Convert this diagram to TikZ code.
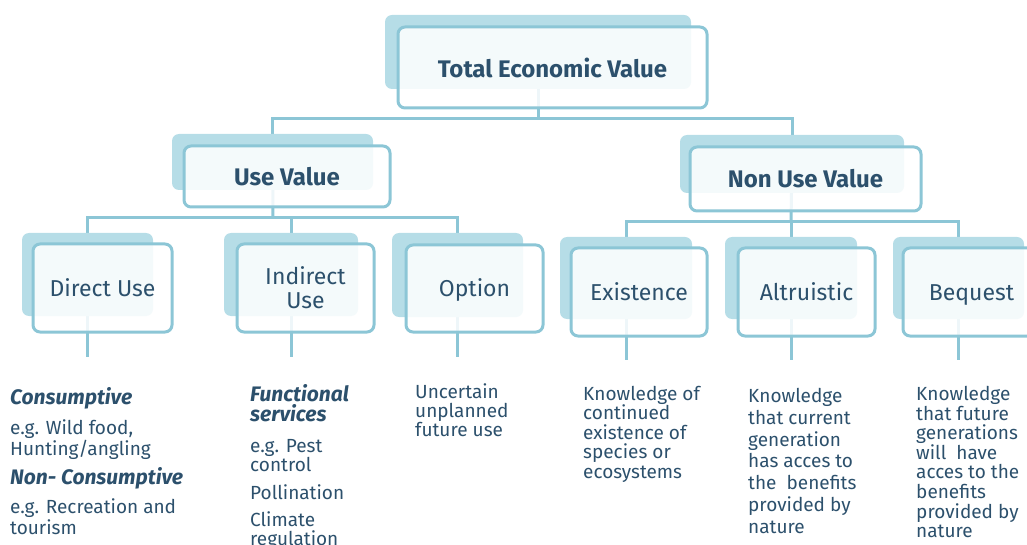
\documentclass[tikz,border=0pt]{standalone}
\usepackage{fontspec}
\setmainfont{Fira Sans}
\usetikzlibrary{backgrounds}
\definecolor{ink}{RGB}{44,80,108}
\definecolor{wire}{RGB}{140,198,214}
\definecolor{under}{RGB}{182,221,231}
% bold italic run-in headings of the description blocks
\newcommand\subheadfont{\fontsize{21}{21}\selectfont\bfseries\itshape}
\begin{document}
\begin{tikzpicture}[x=1pt,y=-1pt,
  back/.style={fill=under, rounded corners=7pt, inner sep=0pt},
  front/.style={draw=wire, line width=3pt, fill=white, fill opacity=0.86,
    text opacity=1, rounded corners=7pt, inner sep=0pt, text=ink, align=center},
  head/.style={font=\fontsize{24}{28}\selectfont\bfseries},
  leaf/.style={font=\fontsize{23}{24}\selectfont},
  oneline/.style={text height=16pt, text depth=0pt},
  note/.style={anchor=north west, inner sep=0pt, align=left, text=ink},
  wireline/.style={draw=wire, line width=3pt}]

\useasboundingbox (0,0) rectangle (1027,545);

% top level
\node[back, minimum width=306pt, minimum height=74pt] (tevB) at (538,52) {};
\node[front, head, minimum width=309pt, minimum height=81pt] (tev) at (552.5,67.5) {Total Economic Value};

% second level
\node[back, minimum width=201pt, minimum height=56pt] (useB) at (272.5,162) {};
\node[front, head, minimum width=206pt, minimum height=61pt] (use) at (287,176.5) {Use Value};
\node[back, minimum width=224pt, minimum height=58pt] (nonB) at (792,164) {};
\node[front, head, minimum width=231pt, minimum height=64pt] (non) at (805.5,179) {Non Use Value};

% third level
\node[back, minimum width=131pt, minimum height=83pt] (dirB) at (87.5,274.5) {};
\node[front, leaf, oneline, minimum width=139pt, minimum height=88pt] (dir) at (102.5,288) {Direct Use};
\node[back, minimum width=134pt, minimum height=83pt] (indB) at (291,274.5) {};
\node[front, leaf, minimum width=137pt, minimum height=88pt] (ind) at (305.5,288) {Indirect\\Use};
\node[back, minimum width=131pt, minimum height=84pt] (optB) at (457.5,275) {};
\node[front, leaf, oneline, minimum width=137pt, minimum height=87pt] (opt) at (474.5,288.5) {Option};
\node[back, minimum width=132pt, minimum height=82pt] (exiB) at (626,278) {};
\node[front, leaf, oneline, minimum width=136pt, minimum height=88pt] (exi) at (639,292) {Existence};
\node[back, minimum width=132pt, minimum height=82pt] (altB) at (791,278) {};
\node[front, leaf, oneline, minimum width=137pt, minimum height=88pt] (alt) at (806.5,292) {Altruistic};
\node[back, minimum width=131pt, minimum height=82pt] (beqB) at (958.5,278) {};
\node[front, leaf, oneline, minimum width=137pt, minimum height=88pt] (beq) at (971.5,292) {Bequest};

% descriptions
\node[note, font=\fontsize{19}{21}\selectfont] (dirNote) at (10,387)
  {{\subheadfont Consumptive}\\[9pt]
   e.g. Wild food,\\
   Hunting/angling\\[7pt]
   {\subheadfont Non- Consumptive}\\[8pt]
   e.g. Recreation and\\
   tourism};
\node[note, font=\fontsize{19}{19}\selectfont] (indNote) at (250,384.5)
  {{\subheadfont Functional}\\[1pt]
   {\subheadfont services}\\[12pt]
   e.g. Pest\\
   control\\[9pt]
   Pollination\\[8pt]
   Climate\\
   regulation};
\node[note, font=\fontsize{19}{19}\selectfont] (optNote) at (415,383)
  {Uncertain\\ unplanned\\ future use};
\node[note, font=\fontsize{19}{19.5}\selectfont] (exiNote) at (583,386)
  {Knowledge of\\ continued\\ existence of\\ species or\\ ecosystems};
\node[note, font=\fontsize{19}{21.8}\selectfont] (altNote) at (748,388)
  {Knowledge\\ that current\\ generation\\ has acces to\\ the\ \ benefits\\ provided by\\ nature};
\node[note, font=\fontsize{19}{19.6}\selectfont] (beqNote) at (916,386)
  {Knowledge\\ that future\\ generations\\ will\ \ have\\ acces to the\\ benefits\\ provided by\\ nature};

% connectors
\coordinate (busA) at (538,119);
\coordinate (busB) at (273,218);
\coordinate (busC) at (791,222);
\coordinate (dropL) at (0,357);
\coordinate (dropR) at (0,360);
\begin{scope}[on background layer]
  \draw[wireline] (tevB.center) -- (busA);
  \draw[wireline] (useB.center) |- (busA) -| (nonB.center);
  \draw[wireline] (useB.center) -- (busB);
  \draw[wireline] (dirB.center) |- (busB) -| (optB.center);
  \draw[wireline] (indB.center) -- (indB.center |- busB);
  \draw[wireline] (nonB.center) -- (busC);
  \draw[wireline] (exiB.center) |- (busC) -| (beqB.center);
  \draw[wireline] (altB.center) -- (altB.center |- busC);
  \draw[wireline] (dirB.center) -- (dirB.center |- dropL);
  \draw[wireline] (indB.center) -- (indB.center |- dropL);
  \draw[wireline] (optB.center) -- (optB.center |- dropL);
  \draw[wireline] (exiB.center) -- (exiB.center |- dropR);
  \draw[wireline] (altB.center) -- (altB.center |- dropR);
  \draw[wireline] (beqB.center) -- (beqB.center |- dropR);
\end{scope}
\end{tikzpicture}
\end{document}
